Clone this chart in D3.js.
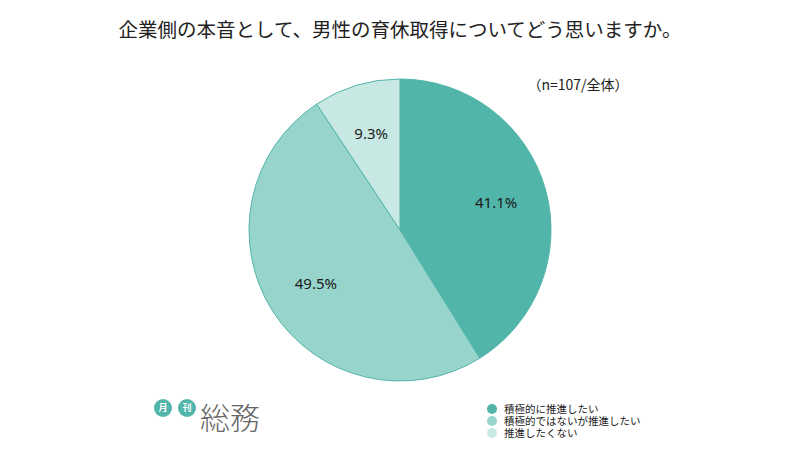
<!DOCTYPE html>
<html lang="ja">
<head>
  <meta charset="UTF-8">
  <title>男性の育休取得</title>
  <style>
    body { margin: 0; background: #fff; }
    text { font-family: "Noto Sans CJK JP", "Noto Sans", sans-serif; }
  </style>
</head>
<body>
<script src="https://cdn.jsdelivr.net/npm/d3@7"></script>
<script>
  var categories = ["積極的に推進したい", "積極的ではないが推進したい", "推進したくない"];
  var values = [41.1, 49.5, 9.3];
  var colors = ["#52b5aa", "#97d5cc", "#c8e8e4"];

  var width = 800, height = 450;
  var cx = 400, cy = 230, radius = 151;

  var svg = d3.select("body").append("svg")
    .attr("width", width)
    .attr("height", height);

  // title
  svg.append("text")
    .attr("x", 400).attr("y", 37)
    .attr("text-anchor", "middle")
    .attr("font-size", 19.5)
    .attr("fill", "#222")
    .text("企業側の本音として、男性の育休取得についてどう思いますか。");

  svg.append("text")
    .attr("x", 578).attr("y", 90)
    .attr("text-anchor", "middle")
    .attr("font-size", 14)
    .attr("fill", "#222")
    .text("（n=107/全体）");

  var pie = d3.pie().sort(null).value(function(d){ return d; });
  var arc = d3.arc().innerRadius(0).outerRadius(radius);
  var labelArc = d3.arc().innerRadius(100).outerRadius(100);

  var g = svg.append("g")
    .attr("transform", "translate(" + cx + "," + cy + ")");

  var arcs = pie(values);

  g.selectAll("path")
    .data(arcs)
    .enter().append("path")
    .attr("d", arc)
    .attr("fill", function(d, i){ return colors[i]; })
    .attr("stroke", "#52b5aa")
    .attr("stroke-width", 1);

  g.selectAll(".lbl")
    .data(arcs)
    .enter().append("text")
    .attr("class", "lbl")
    .attr("transform", function(d){ return "translate(" + labelArc.centroid(d) + ")"; })
    .attr("text-anchor", "middle")
    .attr("dy", "0.35em")
    .attr("font-size", 15)
    .attr("fill", "#1a1a1a")
    .style("font-family", "'Noto Sans', sans-serif")
    .text(function(d){ return d.value.toFixed(1) + "%"; });

  // legend
  var legend = svg.append("g").attr("transform", "translate(492,409)");
  var items = legend.selectAll("g")
    .data(categories)
    .enter().append("g")
    .attr("transform", function(d, i){ return "translate(0," + (i * 12) + ")"; });
  items.append("circle")
    .attr("r", 5)
    .attr("fill", function(d, i){ return colors[i]; });
  items.append("text")
    .attr("x", 12)
    .attr("dy", "0.35em")
    .attr("font-size", 10.5)
    .attr("fill", "#222")
    .text(function(d){ return d; });

  // logo
  var logo = svg.append("g");
  [["月", 163], ["刊", 187]].forEach(function(p){
    logo.append("circle").attr("cx", p[1]).attr("cy", 408).attr("r", 9).attr("fill", "#52b5aa");
    logo.append("text").attr("x", p[1]).attr("y", 408).attr("dy", "0.35em")
      .attr("text-anchor", "middle").attr("font-size", 9).attr("font-weight", "bold")
      .attr("fill", "#fff").text(p[0]);
  });
  logo.append("text")
    .attr("x", 200).attr("y", 429)
    .attr("font-size", 30)
    .attr("font-weight", 300)
    .attr("fill", "#666")
    .text("総務");
</script>
</body>
</html>
